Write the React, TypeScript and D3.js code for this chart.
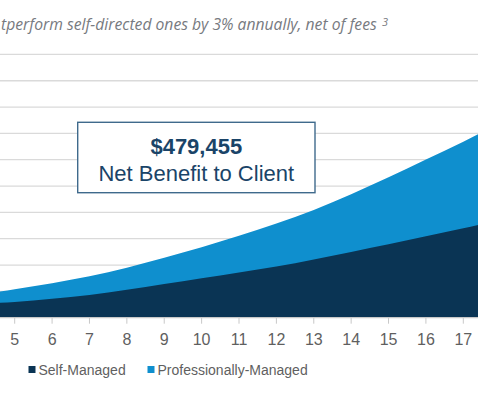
import React, { useRef, useEffect } from "react";
import * as d3 from "d3";

// years (4 and 18 sit just outside the visible crop)
const years = [4, 5, 6, 7, 8, 9, 10, 11, 12, 13, 14, 15, 16, 17, 18];
// portfolio value, $ thousands
const selfManaged = [53, 60, 72, 86, 106, 128, 150, 172, 194, 221, 250, 279, 309, 340, 372];
const proManaged = [87, 108, 131, 157, 190, 228, 268, 311, 358, 409, 469, 533, 601, 668, 742];
const tickYears = [5, 6, 7, 8, 9, 10, 11, 12, 13, 14, 15, 16, 17];
const gridValues = [100, 200, 300, 400, 500, 600, 700, 800, 900, 1000];
const seriesNames = ["Self-Managed", "Professionally-Managed"];
const seriesColors = ["#0a3454", "#0f8fce"];

const W = 478;
const H = 399;

export default function App() {
  const ref = useRef<SVGSVGElement>(null);

  useEffect(() => {
    document.body.style.margin = "0";
    const svg = d3.select(ref.current);
    svg.selectAll("*").remove();

    const x = d3.scaleLinear().domain([5, 17]).range([14.7, 463.3]);
    const y = d3.scaleLinear().domain([0, 1000]).range([317.7, 54.4]);

    // title (cropped on the left in the original)
    svg
      .append("text")
      .attr("x", 1)
      .attr("y", 30)
      .style("font-family", "'Open Sans', sans-serif")
      .style("font-style", "italic")
      .style("font-size", "15.7px")
      .attr("fill", "#777a80")
      .text("tperform self-directed ones by 3% annually, net of fees");
    svg
      .append("text")
      .attr("x", 382)
      .attr("y", 26)
      .style("font-family", "'Open Sans', sans-serif")
      .style("font-style", "italic")
      .style("font-size", "11px")
      .attr("fill", "#777a80")
      .text("3");

    // gridlines
    svg
      .append("g")
      .selectAll("line")
      .data(gridValues)
      .join("line")
      .attr("x1", 0)
      .attr("x2", W)
      .attr("y1", (d) => y(d))
      .attr("y2", (d) => y(d))
      .attr("stroke", "#dadada")
      .attr("stroke-width", 1.3);

    svg
      .append("defs")
      .append("clipPath")
      .attr("id", "plotclip")
      .append("rect")
      .attr("x", 0)
      .attr("y", 0)
      .attr("width", W)
      .attr("height", y(0));

    const rows = years.map((yr, i) => ({ yr, s: selfManaged[i], p: proManaged[i] }));
    const plot = svg.append("g").attr("clip-path", "url(#plotclip)");

    const areaPro = d3
      .area<any>()
      .curve(d3.curveMonotoneX)
      .x((d) => x(d.yr))
      .y0(y(0))
      .y1((d) => y(d.p));
    const areaSelf = d3
      .area<any>()
      .curve(d3.curveMonotoneX)
      .x((d) => x(d.yr))
      .y0(y(0))
      .y1((d) => y(d.s));

    plot.append("path").datum(rows).attr("d", areaPro).attr("fill", seriesColors[1]);
    plot.append("path").datum(rows).attr("d", areaSelf).attr("fill", seriesColors[0]);

    // x axis
    const axis = svg.append("g").attr("transform", `translate(0,${y(0)})`);
    axis.append("line").attr("x1", 0).attr("x2", W).attr("stroke", "#c8c8c8").attr("stroke-width", 1.2);
    const ticks = axis
      .selectAll("g.tick")
      .data(tickYears)
      .join("g")
      .attr("transform", (d) => `translate(${x(d)},0)`);
    ticks.append("line").attr("y1", 0).attr("y2", 6).attr("stroke", "#c8c8c8");
    ticks
      .append("text")
      .attr("y", 27)
      .attr("text-anchor", "middle")
      .style("font-family", "'Liberation Sans', Arial, sans-serif")
      .style("font-size", "16px")
      .attr("fill", "#5f5f5f")
      .text((d) => d);

    // annotation box
    const note = svg.append("g");
    note
      .append("rect")
      .attr("x", 77.7)
      .attr("y", 122.3)
      .attr("width", 237.3)
      .attr("height", 70.4)
      .attr("fill", "#fff")
      .attr("stroke", "#3f6a8c")
      .attr("stroke-width", 1.4);
    note
      .append("text")
      .attr("x", 196.3)
      .attr("y", 153.5)
      .attr("text-anchor", "middle")
      .style("font-family", "'Liberation Sans', Arial, sans-serif")
      .style("font-size", "22px")
      .style("font-weight", "bold")
      .attr("fill", "#1a4468")
      .text("$479,455");
    note
      .append("text")
      .attr("x", 196.3)
      .attr("y", 180.5)
      .attr("text-anchor", "middle")
      .style("font-family", "'Liberation Sans', Arial, sans-serif")
      .style("font-size", "22px")
      .attr("fill", "#1a4468")
      .text("Net Benefit to Client");

    // legend
    const legendX = [28.5, 147.5];
    const legend = svg
      .append("g")
      .selectAll("g")
      .data(seriesNames)
      .join("g")
      .attr("transform", (d, i) => `translate(${legendX[i]},366)`);
    legend
      .append("rect")
      .attr("width", 7)
      .attr("height", 7)
      .attr("fill", (d, i) => seriesColors[i]);
    legend
      .append("text")
      .attr("x", 10)
      .attr("y", 8.5)
      .style("font-family", "'Liberation Sans', Arial, sans-serif")
      .style("font-size", "14px")
      .attr("fill", "#5f5f5f")
      .text((d) => d);
  }, []);

  return (
    <div style={{ position: "absolute", left: 0, top: 0 }}>
      <svg ref={ref} width={W} height={H} style={{ display: "block", background: "#fff" }}></svg>
    </div>
  );
}
